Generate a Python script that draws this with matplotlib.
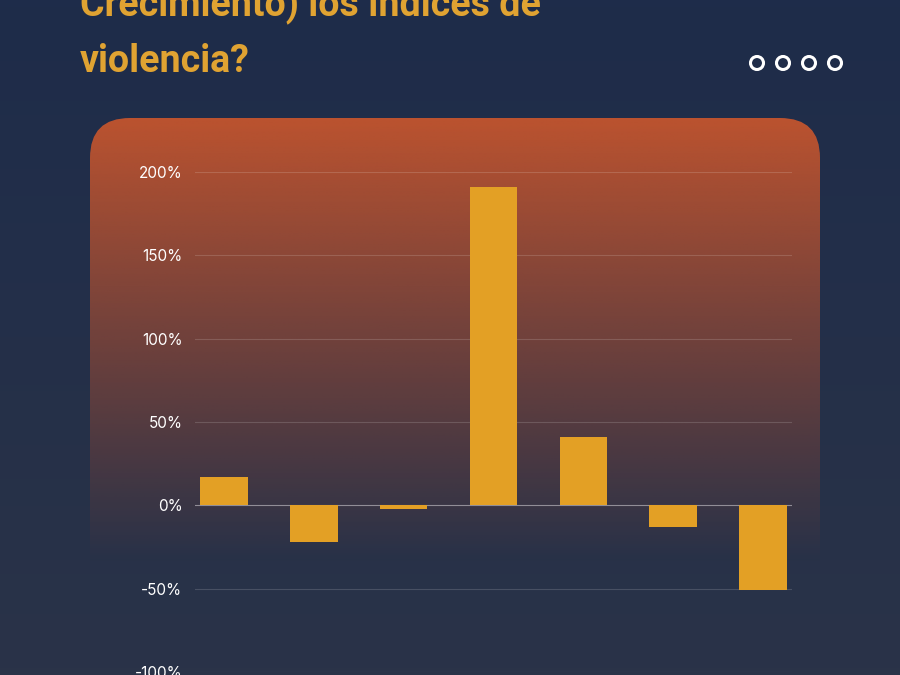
import matplotlib
matplotlib.use("Agg")
import matplotlib.pyplot as plt
import numpy as np
from matplotlib.patches import FancyBboxPatch, Circle

values = [17, -22, -2, 191, 41, -13, -51]
yticks = [-100, -50, 0, 50, 100, 150, 200]
yticklabels = ["-100%", "-50%", "0%", "50%", "100%", "150%", "200%"]
title_lines = ["Crecimiento) los índices de", "violencia?"]

W, H = 900, 675
fig = plt.figure(figsize=(9, 6.75), dpi=100)
bg = fig.add_axes([0, 0, 1, 1])
bg.set_xlim(0, W); bg.set_ylim(H, 0); bg.axis("off")
# background
g = np.linspace(0, 1, 100)[:, None]
c1 = np.array([0x1e, 0x2c, 0x4a]) / 255
c2 = np.array([0x2a, 0x33, 0x48]) / 255
img = c1 * (1 - g[..., None]) + c2 * g[..., None]
img = np.repeat(img, 2, axis=1)
bg.imshow(img, extent=[0, W, H, 0], aspect="auto", zorder=0)
# panel with gradient
panel = FancyBboxPatch((90, 118), 730, 700, boxstyle="round,pad=0,rounding_size=40",
                       fc="none", ec="none")
bg.add_patch(panel)
gg = np.linspace(0, 1, 200)[:, None]
top = np.array([0xc4, 0x55, 0x2e]) / 255
alpha = np.clip(1 - gg * 1.25, 0, 1) * 0.95
pimg = np.zeros((200, 2, 4))
pimg[..., :3] = top
pimg[..., 3] = alpha
im = bg.imshow(pimg, extent=[90, 820, 675, 118], aspect="auto", zorder=1)
im.set_clip_path(panel)
# title
bg.text(80, 5, title_lines[0], color="#e0a332", fontsize=27, fontweight="bold",
        family="Roboto", va="center", ha="left", zorder=3)
bg.text(80, 62, title_lines[1], color="#e0a332", fontsize=27, fontweight="bold",
        family="Roboto", va="center", ha="left", zorder=3)
for cx in [757, 783, 809, 835]:
    bg.add_patch(Circle((cx, 63), 6.5, fc="none", ec="white", lw=2.2, zorder=3))

ax = fig.add_axes([195 / W, 1 - 672 / H, (792 - 195) / W, 500 / H])
ax.patch.set_alpha(0)
x = np.arange(len(values))
ax.bar(x, values, width=0.53, color="#e3a025", zorder=3)
ax.set_xlim(-0.32, len(values) - 0.68)
ax.set_ylim(-100, 200)
ax.set_yticks(yticks)
ax.set_yticklabels(yticklabels, color="white", fontsize=11, family="Inter")
ax.set_xticks([])
ax.tick_params(axis="y", length=0, pad=9)
for s in ax.spines.values():
    s.set_visible(False)
ax.grid(axis="y", color="white", alpha=0.15, lw=0.8, zorder=0)
ax.axhline(0, color="white", alpha=0.35, lw=0.8, zorder=1)
fig.savefig("out.png", dpi=100)
